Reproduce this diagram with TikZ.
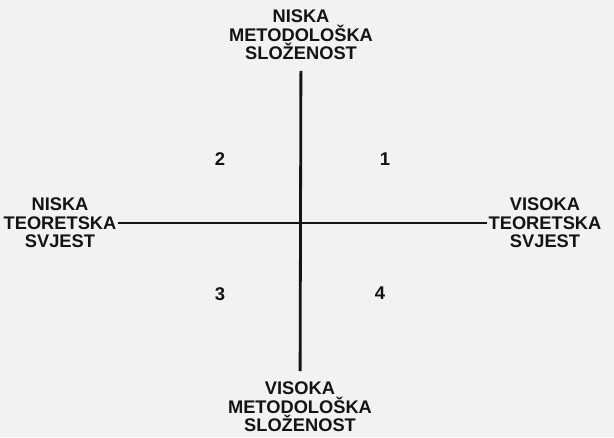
\documentclass[tikz,border=0pt]{standalone}
\usepackage{fontspec}
\setmainfont{Liberation Sans}
\usepackage{xcolor}
\usepackage{tikz}
\usetikzlibrary{positioning}
\definecolor{myink}{RGB}{20,20,20}
\definecolor{mypaper}{RGB}{242,242,240}
\tikzset{
  axislabel/.style={rectangle, align=center, text=myink,
    font=\bfseries\fontsize{10.4}{10.6}\selectfont,
    inner xsep=0.5pt, inner ysep=6pt},
  quadnum/.style={font=\bfseries\fontsize{10.5}{12}\selectfont, text=myink},
  axisline/.style={line width=1.6pt, color=myink}
}

\begin{document}
\begin{tikzpicture}
  \fill[mypaper] (0,0) rectangle (12.28,8.74);
  \useasboundingbox (0,0) rectangle (12.28,8.74);

  \node[axislabel] (lowmet)  at (6.02, 8.04) {NISKA \\ METODOLOŠKA \\ SLOŽENOST};
  \node[axislabel] (highmet) at (6.00, 0.60) {VISOKA \\ METODOLOŠKA \\ SLOŽENOST};
  \node[axislabel] (lowteo)  at (1.20, 4.28) {NISKA \\ TEORETSKA \\ SVJEST};
  \node[axislabel] (highteo) at (10.90, 4.28) {VISOKA \\ TEORETSKA \\ SVJEST};

  \node[quadnum] (q1) at (7.70, 5.56) {1};
  \node[quadnum] (q2) at (4.40, 5.56) {2};
  \node[quadnum] (q3) at (4.40, 2.86) {3};
  \node[quadnum] (q4) at (7.60, 2.88) {4};

  \draw[axisline] (lowmet) -- (highmet);
  \draw[axisline] (lowteo) -- (highteo);
\end{tikzpicture}
\end{document}
